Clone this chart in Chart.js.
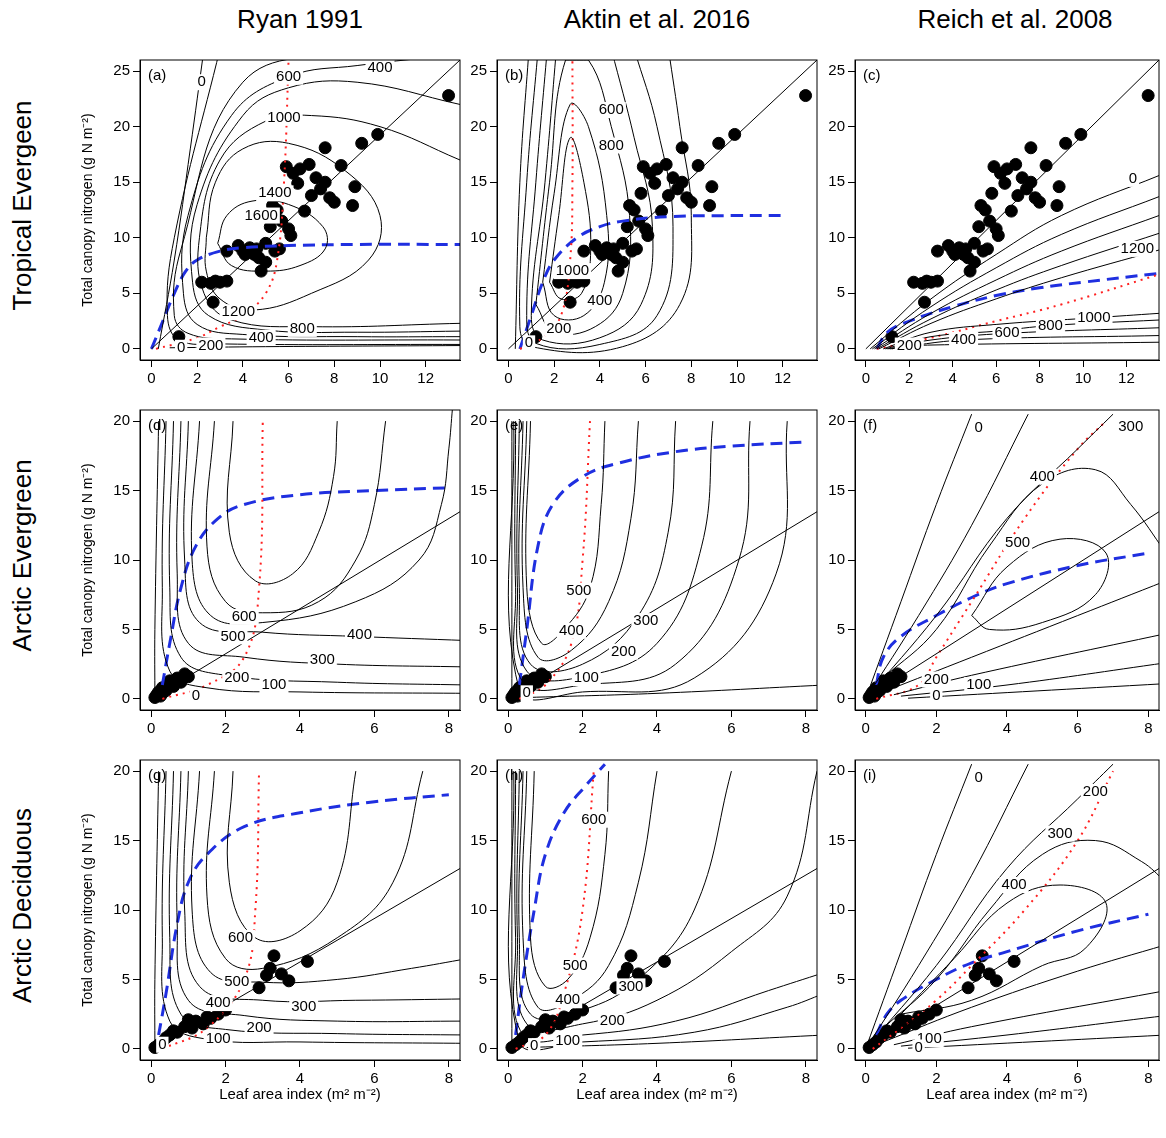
<!DOCTYPE html>
<html>
<head>
<meta charset="UTF-8">
<script src="https://cdn.jsdelivr.net/npm/chart.js"></script>
<style>
  body { margin:0; background:#fff; font-family:"Liberation Sans", Arial, sans-serif; }
  #wrap { position:relative; width:1166px; height:1138px; overflow:hidden; }
  canvas { position:absolute; }
  .ct { position:absolute; top:4px; font-size:26px; text-align:center; width:320px; }
  .rt { position:absolute; left:-128px; width:300px; font-size:26px; text-align:center; transform:rotate(-90deg); }
</style>
</head>
<body>
<div id="wrap">
  <div class="ct" style="left:140px">Ryan 1991</div>
  <div class="ct" style="left:497px">Aktin et al. 2016</div>
  <div class="ct" style="left:855px">Reich et al. 2008</div>
  <div class="rt" style="top:190px">Tropical Evergeen</div>
  <div class="rt" style="top:540px">Arctic Evergreen</div>
  <div class="rt" style="top:890px">Arctic Deciduous</div>
</div>
<script>
// observed canopies [LAI, total N]
const tropicalObs = [[1.2,1.1],[2.7,4.2],[2.6,5.9],[3.0,6.0],[3.3,6.1],[3.3,8.8],[3.8,9.3],[4.0,8.8],[4.3,9.1],[4.5,8.5],[4.7,8.2],[4.8,7.0],[5.0,7.8],[5.0,9.5],[5.2,11.0],[5.3,12.9],[5.5,12.5],[5.6,9.0],[5.7,11.5],[5.8,14.0],[5.9,16.4],[6.0,10.8],[6.1,10.2],[6.2,15.8],[6.4,14.9],[6.5,16.2],[6.7,12.4],[6.9,16.6],[7.0,13.8],[7.2,15.4],[7.4,14.4],[7.6,18.1],[7.6,15.0],[7.8,13.6],[8.0,13.2],[8.3,16.5],[8.8,12.9],[8.9,14.6],[9.2,18.5],[9.9,19.3],[13.0,22.8],[4.1,8.5],[4.6,9.0],[5.4,8.8],[2.8,6.1],[2.2,6.0]];
const arcticEvgObs = [[0.1,0.1],[0.15,0.3],[0.2,0.5],[0.3,0.4],[0.3,0.8],[0.4,0.6],[0.5,1.0],[0.5,1.3],[0.6,0.9],[0.7,1.5],[0.8,1.2],[0.9,1.8],[1.0,1.6],[0.25,0.2]];
const arcticDecObs = [[0.1,0.1],[0.2,0.3],[0.3,0.5],[0.4,0.8],[0.5,1.0],[0.6,1.3],[0.7,1.2],[0.9,1.6],[1.0,2.1],[1.2,2.0],[1.4,1.8],[1.6,2.2],[1.8,2.5],[2.0,2.8],[2.9,4.4],[3.2,5.8],[3.3,6.7],[3.5,5.4],[3.7,4.9],[4.2,6.3],[3.1,5.3],[1.1,1.5],[1.5,2.3]];
const fitLines = { trop:[[0,0],[13.5,26]], evg:[[0,0],[8.5,13.8]], dec:[[0,0],[8.5,13.3]] };

// tick labels
const tropXTicks = [0,2,4,6,8,10,12];
const tropYTicks = [0,5,10,15,20,25];
const arcXTicks = [0,2,4,6,8];
const arcYTicks = [0,5,10,15,20];

// optimal N curves (blue dashed) and optimal LAI curves (red dotted)
const blue = {
  a:[[0,0],[0.5,2.5],[1,5],[1.5,7],[2,8],[3,8.8],[4,9.1],[6,9.3],[9,9.4],[13.5,9.4]],
  b:[[0.5,0],[1,3],[1.5,6],[2,8],[3,10],[4,11],[5,11.5],[7,11.9],[10,12],[12,12]],
  c:[[0.5,0],[1,1.5],[2,2.5],[4,3.8],[6,4.8],[8,5.5],[10,6],[13.5,6.8]],
  d:[[0.3,1],[0.5,4],[0.8,8],[1.2,11],[1.8,13],[2.5,14],[4,14.7],[6,15],[8,15.2]],
  e:[[0.3,1],[0.5,5],[0.8,11],[1.2,14],[2,16],[3,17],[4.5,17.8],[6,18.2],[8,18.5]],
  f:[[0.3,1],[0.5,3],[1,4.5],[2,6],[3,7.3],[4,8.3],[6,9.6],[8,10.5]],
  g:[[0.2,1],[0.4,4],[0.7,9],[1,12],[1.5,14],[2.5,16],[4,17],[6,17.8],[8,18.3]],
  h:[[0.2,1],[0.4,5],[0.7,10],[1,14],[1.5,17],[2.1,19],[2.6,20.5]],
  i:[[0.3,1],[0.6,2.5],[1,3.5],[2,5],[3,6.2],[4,7],[6,8.5],[8,9.7]]
};
const red = {
  a:[[0.2,0],[2,1],[3,2],[4,3],[5,5],[5.5,8],[5.8,15],[6,26]],
  b:[[0.5,0],[1.5,1],[2.3,3],[2.7,8],[2.8,15],[2.8,26]],
  c:[[0.5,0],[3,1],[6,2.5],[9,4],[13.5,6.7]],
  d:[[0.3,0],[1.5,1],[2.5,3],[2.9,8],[3,20]],
  e:[[0.3,0],[1,1],[1.7,4],[2,10],[2.2,20]],
  f:[[0.3,0],[1.5,1],[2,3],[3,7],[4.5,13],[6,18],[6.8,20]],
  g:[[0.3,0],[1.5,1.5],[2.5,5],[2.8,10],[2.9,20]],
  h:[[0.2,0],[1,1],[1.5,4],[2,10],[2.3,20]],
  i:[[0.2,0],[1,1.5],[2,3.5],[3,6],[4.5,10],[6,15],[7,20]]
};

// productivity contours
const contours = {
  a:[[[0.3,0],[1,8],[1.7,18],[2.3,27]],[[0.8,0.1],[5,0.2],[13.5,0.3]],
     [[3,27],[1,10],[0.7,3],[1.2,0.8],[3,0.45],[13.5,0.4]],
     [[9,27],[4,24],[1.3,9],[1,3],[1.6,1.4],[3.5,0.9],[13.5,0.8]],
     [[13.5,26.5],[9,25.5],[6,24.5],[3.5,21],[1.6,12],[1.4,5],[2,2.2],[4,1.3],[9,1.1],[13.5,1.1]],
     [[13.5,22],[9,24],[6,23.5],[4,21],[2,13],[1.8,6],[2.5,3],[5,1.7],[9,1.5],[13.5,1.6]],
     [[13.5,17],[10,20],[7,21],[5,20.5],[3,17],[2.1,10],[2.3,5],[3.5,2.6],[7,2],[13.5,2.3]],
     [[2.4,10],[2.8,15],[4,18],[6,18.5],[8.5,16],[10,12],[9.5,8],[7,5],[4.5,3.5],[3,4.5],[2.4,7],[2.4,10]],
     [[2.9,9.5],[3.3,12],[4.4,13.3],[6,13],[7.5,11],[7.6,9],[6.5,7.5],[5,7],[3.5,7.5],[2.9,9.5]]],
  b:[[[0.9,27],[0.5,15],[0.3,0]],
     [[1.3,27],[0.8,15],[0.5,2],[1,0.2],[5,0.2],[7.5,4],[8,12],[7.5,20],[7,27]],
     [[1.7,27],[1.2,15],[0.8,3],[1.2,0.5],[4,0.4],[6.5,3],[7.2,11],[6.5,20],[5.5,27]],
     [[2.1,27],[1.6,15],[1,3],[1.5,0.8],[4,1],[5.8,4],[6.3,11],[5.5,19],[4.5,27]],
     [[1.2,4],[1.8,15],[2.5,26],[3.5,26],[4.5,20],[5.3,12],[5,5],[3.8,2],[2,1.5],[1.2,4]],
     [[1.5,6],[2,14],[2.7,22],[3.5,20],[4.3,12],[4.2,6],[3.3,3],[2,3],[1.5,6]],
     [[1.8,6],[2.2,12],[2.7,19],[3.3,15],[3.6,9],[3.2,5],[2.3,4.5],[1.8,6]]],
  c:[[[0.2,0],[3,4.5],[6,8.5],[9,12],[13.5,15.6]],
     [[0.3,0],[3,3.8],[6,7.3],[9,10.3],[13.5,13.7]],
     [[0.4,0],[3,3.2],[6,6.2],[9,8.8],[13.5,12]],
     [[0.5,0],[3,2.7],[6,5.3],[9,7.5],[13.5,10.4]],
     [[0.6,0],[3,2.3],[6,4.5],[9,6.4],[13.5,8.9]],
     [[0.8,0],[3,1.5],[6,2.2],[10.5,2.8],[13.5,3.2]],
     [[0.9,0],[3,1.1],[6,1.6],[8.5,2.1],[13.5,2.6]],
     [[1,0],[3,0.8],[6.5,1.4],[13.5,1.9]],
     [[1.1,0],[4.5,0.8],[13.5,1.2]],
     [[1.2,0],[2,0.3],[13.5,0.6]]],
  d:[[[0.2,20],[0.1,5],[0.1,0]],
     [[0.4,20],[0.3,8],[0.5,2],[1.5,0.8],[4,0.5],[8.5,0.4]],
     [[0.6,20],[0.5,8],[0.8,3],[2,1.7],[5,1.2],[8.5,1]],
     [[0.8,20],[0.7,9],[1,4],[2.5,3],[5,2.5],[8.5,2.3]],
     [[1,20],[0.9,10],[1.3,5.5],[3,4.8],[5.5,4.5],[8.5,4.2]],
     [[1.3,20],[1.1,10],[1.6,6],[3,5.5],[5.5,7],[7.2,10],[7.8,14],[8,18],[8.1,21]],
     [[1.7,20],[1.5,11],[2,7],[3,6.2],[4.5,7],[5.5,10],[6,14],[6.3,20]],
     [[2.2,20],[2.1,12],[2.8,8.5],[3.8,9],[4.5,12],[4.9,16],[5,20]]],
  e:[[[0.1,20],[0.1,0]],
     [[0.5,0.1],[4,0.4],[8.5,1]],
     [[0.15,20],[0.3,0.6],[2,0.5],[5,1.5],[7.2,9],[7.5,20]],
     [[0.2,20],[0.2,8],[0.4,1.2],[2,1],[4.5,2.5],[6.2,10],[6.5,20]],
     [[0.3,20],[0.25,8],[0.5,2],[2,1.6],[4,4],[5.2,11],[5.5,20]],
     [[0.4,20],[0.3,8],[0.6,2.5],[2,2.5],[3.5,6],[4.3,12],[4.5,20]],
     [[0.5,20],[0.4,8],[0.8,3],[1.7,3.5],[2.7,7],[3.3,13],[3.5,20]],
     [[0.6,20],[0.5,8],[0.9,4],[1.5,5],[2.2,8],[2.5,14],[2.6,20]]],
  f:[[[0,0],[1,7],[2,14],[3,20.5]],
     [[0,0],[1.5,6],[3,12.5],[4.6,20.5]],
     [[0,0],[2,6],[4,13],[6,18],[7,20.5]],
     [[0.5,1.5],[2,5],[3.5,11],[5,15.5],[6.5,16.5],[7.5,14],[8.5,10.5]],
     [[3,6],[4,9.5],[5.5,11.5],[6.8,10.5],[6.5,7.5],[5,5.5],[3.5,5],[3,6]],
     [[0.5,0.5],[3,3],[6,6],[8.5,8.5]],
     [[0.8,0.3],[3,1.7],[8.5,4.7]],
     [[1,0.2],[4,1],[8.5,2.6]],
     [[1.2,0.05],[8.5,1.1]]],
  g:[[[0.2,20],[0.1,5],[0.1,0]],
     [[0.4,20],[0.3,8],[0.5,2],[1.5,0.7],[4,0.5],[8.5,0.4]],
     [[0.6,20],[0.5,8],[0.8,2.5],[2,1.4],[5,1.1],[8.5,1]],
     [[0.8,20],[0.7,9],[1,3.5],[2.5,2.4],[5,2],[8.5,2]],
     [[1,20],[0.9,10],[1.3,4.5],[3,3.5],[5.5,3.5],[8.5,3.6]],
     [[1.3,20],[1.1,10],[1.6,5.5],[3,4.8],[5,5],[7,5.8],[8.5,6.5]],
     [[1.7,20],[1.5,11],[2,6.5],[3,5.8],[5,8],[6.5,12],[7.3,20]],
     [[2.2,20],[2.1,12],[2.8,8],[4,8.5],[5,12],[5.5,20]]],
  h:[[[0.1,20],[0.1,0]],
     [[0.5,0.1],[4,0.4],[8.5,1]],
     [[0.15,20],[0.3,0.5],[2,0.5],[5,1.2],[7.5,3],[8.5,4]],
     [[0.2,20],[0.2,8],[0.4,1],[2,1],[4.5,2],[7,4.2],[8.5,5.5]],
     [[0.3,20],[0.25,8],[0.5,1.8],[2,1.8],[4,3.5],[6,7],[7.5,11],[8.3,20]],
     [[0.4,20],[0.3,8],[0.6,2.5],[2,2.8],[3.5,5],[5,10],[6,20]],
     [[0.5,20],[0.4,8],[0.8,3],[1.7,3.5],[2.7,6],[3.5,12],[4,20]],
     [[0.7,20],[0.6,8],[1,4.5],[1.6,5],[2.2,8],[2.6,14],[2.7,20]]],
  i:[[[0,0],[1,7],[2,14],[3,20.5]],
     [[0,0],[1.5,6],[3,12.5],[4.6,20.5]],
     [[0,0],[2,6],[4,13],[6,18],[7,20.5]],
     [[0.5,1.5],[2,5],[3.5,10],[5,14],[6.5,15],[7.8,13.5],[8.5,12]],
     [[1,2.5],[2.5,6.5],[4,10.5],[5.5,11.8],[6.8,10.5],[6.2,7.2],[5,6],[3,3.5],[1,2.5]],
     [[0.5,0.5],[3,3],[6,5.6],[8.5,7.5]],
     [[0.8,0.3],[3,1.6],[8.5,4.2]],
     [[1,0.2],[4,1],[8.5,2.4]],
     [[1.2,0.05],[8.5,1]]]
};
const contourLabels = {
  a:[[2.2,24,'0'],[10,25.3,'400'],[6,24.5,'600'],[5.8,20.8,'1000'],[5.4,14,'1400'],[4.8,12,'1600'],[3.8,3.3,'1200'],[6.6,1.8,'800'],[4.8,1,'400'],[2.6,0.3,'200'],[1.3,0.1,'0']],
  b:[[4.5,21.5,'600'],[4.5,18.3,'800'],[2.8,7,'1000'],[4,4.3,'400'],[2.2,1.8,'200'],[0.9,0.5,'0']],
  c:[[12.3,15.3,'0'],[12.5,9,'1200'],[10.5,2.8,'1000'],[8.5,2.1,'800'],[6.5,1.4,'600'],[4.5,0.8,'400'],[2,0.3,'200']],
  d:[[2.5,5.9,'600'],[2.2,4.5,'500'],[5.6,4.6,'400'],[4.6,2.8,'300'],[2.3,1.5,'200'],[3.3,1,'100'],[1.2,0.2,'0']],
  e:[[1.9,7.8,'500'],[1.7,4.9,'400'],[3.7,5.6,'300'],[3.1,3.4,'200'],[2.1,1.5,'100'],[0.5,0.4,'0']],
  f:[[3.2,19.5,'0'],[7.5,19.6,'300'],[5,16,'400'],[4.3,11.2,'500'],[2,1.4,'200'],[3.2,1,'100'],[2,0.2,'0']],
  g:[[2.4,8,'600'],[2.3,4.8,'500'],[1.8,3.3,'400'],[4.1,3,'300'],[2.9,1.5,'200'],[1.8,0.7,'100'],[0.3,0.3,'0']],
  h:[[2.3,16.5,'600'],[1.8,6,'500'],[1.6,3.5,'400'],[3.3,4.5,'300'],[2.8,2,'200'],[1.6,0.6,'100'],[0.7,0.2,'0']],
  i:[[3.2,19.5,'0'],[6.5,18.5,'200'],[5.5,15.5,'300'],[4.2,11.8,'400'],[1.8,0.7,'100'],[1.5,0.1,'0']]
};

const panelKeys = ['a','b','c','d','e','f','g','h','i'];
const colLeft = [140, 497, 855];
const colWidth = [323, 323, 307];
const rowTop = [58, 408, 758];
const rowObs = [tropicalObs, arcticEvgObs, arcticDecObs];
const rowFit = [fitLines.trop, fitLines.evg, fitLines.dec];
const rowX = [{min:-0.5, max:13.5, ticks:tropXTicks}, {min:-0.3, max:8.3, ticks:arcXTicks}, {min:-0.3, max:8.3, ticks:arcXTicks}];
const rowY = [{min:-1, max:26, ticks:tropYTicks}, {min:-0.8, max:20.8, ticks:arcYTicks}, {min:-0.8, max:20.8, ticks:arcYTicks}];

const xy = arr => arr.map(p => ({x:p[0], y:p[1]}));

const boxPlugin = {
  id:'box',
  afterDatasetsDraw(chart) {
    const {ctx, chartArea:a} = chart;
    const key = chart.options.plugins.box.key;
    ctx.save();
    ctx.font = '15px "Liberation Sans", Arial, sans-serif';
    ctx.textAlign = 'center'; ctx.textBaseline = 'middle';
    for (const [x, y, t] of contourLabels[key]) {
      const px = chart.scales.x.getPixelForValue(x), py = chart.scales.y.getPixelForValue(y);
      const w = ctx.measureText(t).width + 4;
      ctx.fillStyle = '#fff'; ctx.fillRect(px - w/2, py - 8, w, 16);
      ctx.fillStyle = '#000'; ctx.fillText(t, px, py);
    }
    ctx.textAlign = 'left';
    ctx.fillText('(' + key + ')', a.left + 8, a.top + 16);
    ctx.strokeStyle = '#000'; ctx.lineWidth = 1;
    ctx.strokeRect(a.left, a.top, a.right - a.left, a.bottom - a.top);
    ctx.restore();
  }
};

const wrap = document.getElementById('wrap');
panelKeys.forEach((key, i) => {
  const r = Math.floor(i / 3), c = i % 3;
  const cv = document.createElement('canvas');
  cv.width = 60 + colWidth[c] + 4; cv.height = 360;
  cv.style.left = (colLeft[c] - 60) + 'px';
  cv.style.top = (rowTop[r] - 10) + 'px';
  wrap.appendChild(cv);

  const datasets = [];
  contours[key].forEach(line => datasets.push({
    data: xy(line), showLine:true, borderColor:'#000', borderWidth:1, pointRadius:0, tension:0.4
  }));
  datasets.push({ data: xy(rowFit[r]), showLine:true, borderColor:'#000', borderWidth:1, pointRadius:0 });
  datasets.push({ data: xy(red[key]), showLine:true, borderColor:'#ff2020', borderWidth:2, borderDash:[2,5], pointRadius:0, tension:0.4 });
  datasets.push({ data: xy(blue[key]), showLine:true, borderColor:'#1f2fe0', borderWidth:3, borderDash:[12,7], pointRadius:0, tension:0.4 });
  datasets.push({ data: xy(rowObs[r]), showLine:false, pointRadius:6, backgroundColor:'#000', borderColor:'#000' });

  const setTicks = list => axis => { axis.ticks = list.map(v => ({ value:v })); };
  const font = { family:'"Liberation Sans", Arial, sans-serif', size:15 };
  new Chart(cv, {
    type:'scatter',
    data:{ datasets },
    plugins:[boxPlugin],
    options:{
      responsive:false, animation:false,
      layout:{ padding:{ top:10, right:4 } },
      plugins:{ legend:{display:false}, tooltip:{enabled:false}, box:{key} },
      scales:{
        x:{ min:rowX[r].min, max:rowX[r].max, ticks:{ color:'#000', font, maxRotation:0, autoSkip:false },
            afterBuildTicks: setTicks(rowX[r].ticks),
            grid:{ drawOnChartArea:false, color:'#000', tickLength:7 }, border:{ color:'#000' },
            title:{ display: r === 2, text:'Leaf area index (m² m⁻²)', color:'#000', font:{...font, size:15} },
            afterFit: s => { s.height = 48; } },
        y:{ min:rowY[r].min, max:rowY[r].max, ticks:{ color:'#000', font, autoSkip:false },
            afterBuildTicks: setTicks(rowY[r].ticks),
            grid:{ drawOnChartArea:false, color:'#000', tickLength:7 }, border:{ color:'#000' },
            title:{ display: c === 0, text:'Total canopy nitrogen (g N m⁻²)', color:'#000', font:{...font, size:14}, padding:0 },
            afterFit: s => { s.width = 60; } }
      }
    }
  });
});
</script>
</body>
</html>
